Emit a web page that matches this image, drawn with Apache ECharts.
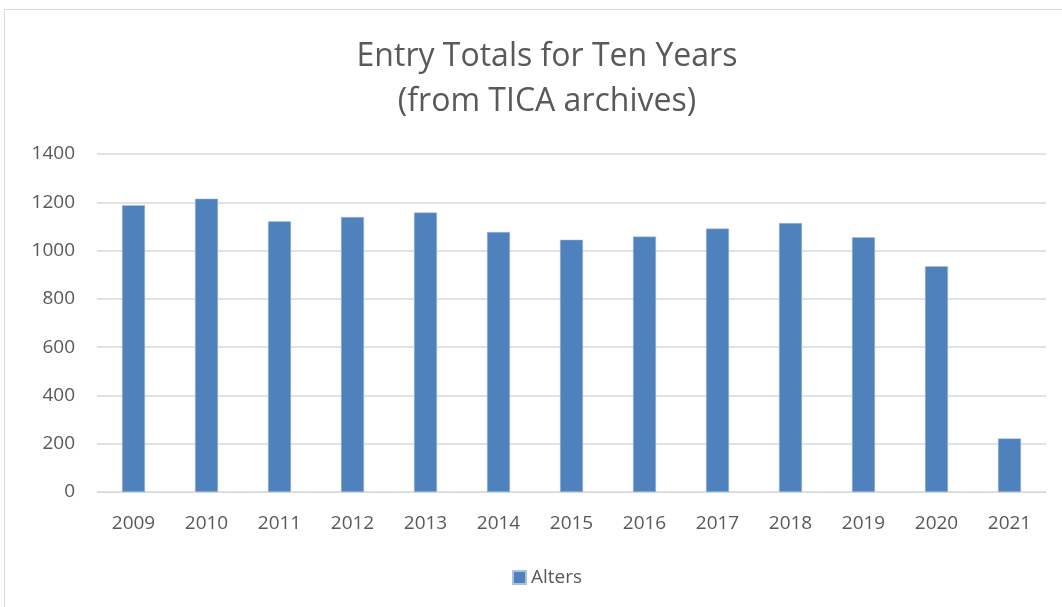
<!DOCTYPE html>
<html lang="en">
<head>
    <meta charset="UTF-8">
    <title>Entry Totals for Ten Years</title>
    <script src="https://cdn.jsdelivr.net/npm/echarts@6/dist/echarts.min.js"></script>
    <style>
        html, body { margin: 0; padding: 0; background: #fff; }
        #chart { width: 1062px; height: 607px; }
        #frame { position: absolute; left: 4px; top: 9px; width: 1070px; height: 610px; border: 1px solid #d9d9d9; pointer-events: none; }
    </style>
</head>
<body>
    <div id="chart"></div>
    <div id="frame"></div>
    <script>
        // data
        const years = ['2009', '2010', '2011', '2012', '2013', '2014', '2015',
                       '2016', '2017', '2018', '2019', '2020', '2021'];
        const alters = [1188, 1215, 1121, 1139, 1158, 1077, 1045,
                        1058, 1091, 1114, 1055, 935, 222];

        const textColor = '#595959';
        const font = 'Open Sans';

        var myChart = echarts.init(document.getElementById('chart'));

        const option = {
            animation: false,
            title: {
                text: 'Entry Totals for Ten Years\n(from TICA archives)',
                left: 542,
                textAlign: 'center',
                top: 29,
                textStyle: {
                    fontFamily: font,
                    fontSize: 32,
                    fontWeight: 'normal',
                    color: textColor,
                    lineHeight: 45
                }
            },
            legend: {
                bottom: 15,
                left: 507,
                itemWidth: 13,
                itemHeight: 13,
                icon: 'rect',
                textStyle: { fontFamily: font, fontSize: 19, color: textColor }
            },
            grid: {
                left: 97,
                right: 16,
                top: 154,
                bottom: 115
            },
            xAxis: {
                type: 'category',
                data: years,
                axisTick: { show: false },
                axisLine: { lineStyle: { color: '#d9d9d9', width: 1 } },
                axisLabel: { fontFamily: font, fontSize: 19, color: textColor, margin: 22 }
            },
            yAxis: {
                type: 'value',
                min: 0,
                max: 1400,
                interval: 200,
                axisLine: { show: false },
                axisTick: { show: false },
                splitLine: { lineStyle: { color: '#d9d9d9', width: 1.5 } },
                axisLabel: {
                    fontFamily: font, fontSize: 19, color: textColor, margin: 22,
                    formatter: v => String(v)
                }
            },
            series: [
                {
                    name: 'Alters',
                    type: 'bar',
                    data: alters,
                    barWidth: 23,
                    itemStyle: { color: '#4f81bd', borderColor: '#a9c0de', borderWidth: 0.5 }
                }
            ]
        };

        myChart.setOption(option);
    </script>
</body>
</html>
